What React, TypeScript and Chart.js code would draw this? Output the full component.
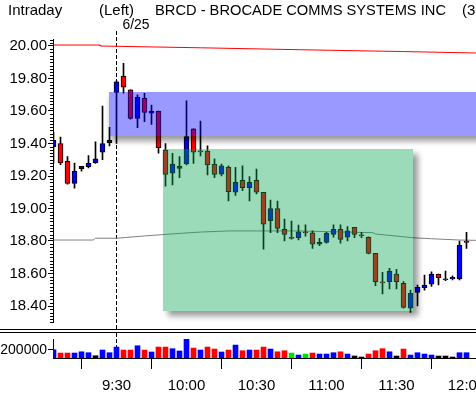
import React, { useEffect, useRef } from 'react';
import { Chart, registerables } from 'chart.js';
Chart.register(...registerables);

const barTimes = [
  '9:03', '9:06', '9:09', '9:12', '9:15', '9:18', '9:21', '9:24', '9:27', '9:30',
  '9:33', '9:36', '9:39', '9:42', '9:45', '9:48', '9:51', '9:54', '9:57', '10:00',
  '10:03', '10:06', '10:09', '10:12', '10:15', '10:18', '10:21', '10:24', '10:27', '10:30',
  '10:33', '10:36', '10:39', '10:42', '10:45', '10:48', '10:51', '10:54', '10:57', '11:00',
  '11:03', '11:06', '11:09', '11:12', '11:15', '11:18', '11:21', '11:24', '11:27', '11:30',
  '11:33', '11:36', '11:39', '11:42', '11:45', '11:48', '11:51', '11:54', '11:57', '12:00',
];
const openPrices = [
  19.38, 19.40, 19.29, 19.155, 19.245, 19.257, 19.282, 19.346, 19.405, 19.715,
  19.815, 19.73, 19.555, 19.678, 19.586, 19.60, 19.36, 19.217, 19.247, 19.274,
  19.49, 19.355, 19.354, 19.274, 19.212, 19.253, 19.10, 19.174, 19.128, 19.174,
  19.10, 18.925, 19.00, 18.872, 18.822, 18.82, 18.857, 18.851, 18.78, 18.792,
  18.841, 18.872, 18.823, 18.884, 18.838, 18.823, 18.724, 18.548, 18.55, 18.597,
  18.54, 18.386, 18.484, 18.513, 18.534, 18.597, 18.567, 18.566, 18.566, 18.798,
];
const highPrices = [
  19.47, 19.44, 19.32, 19.28, 19.26, 19.325, 19.41, 19.63, 19.50, 19.785,
  19.893, 19.73, 19.70, 19.709, 19.637, 19.60, 19.40, 19.34, 19.32, 19.663,
  19.49, 19.538, 19.385, 19.305, 19.274, 19.262, 19.253, 19.262, 19.196, 19.243,
  19.10, 19.052, 19.046, 18.935, 18.923, 18.898, 18.90, 18.863, 18.817, 18.853,
  18.90, 18.90, 18.888, 18.884, 18.853, 18.826, 18.724, 18.607, 18.632, 18.626,
  18.55, 18.498, 18.529, 18.59, 18.611, 18.597, 18.615, 18.586, 18.80, 18.853,
];
const lowPrices = [
  19.28, 19.27, 19.15, 19.125, 19.23, 19.25, 19.278, 19.30, 19.385, 19.40,
  19.71, 19.55, 19.497, 19.534, 19.518, 19.34, 19.138, 19.145, 19.19, 19.268,
  19.278, 19.323, 19.206, 19.19, 19.20, 19.046, 19.08, 19.11, 19.046, 19.09,
  18.75, 18.851, 18.851, 18.80, 18.812, 18.806, 18.83, 18.755, 18.771, 18.786,
  18.823, 18.786, 18.80, 18.82, 18.82, 18.72, 18.525, 18.474, 18.505, 18.505,
  18.386, 18.361, 18.40, 18.498, 18.52, 18.529, 18.556, 18.56, 18.56, 18.755,
];
const closePrices = [
  19.42, 19.28, 19.155, 19.23, 19.26, 19.278, 19.305, 19.40, 19.42, 19.78,
  19.746, 19.555, 19.684, 19.592, 19.60, 19.374, 19.21, 19.274, 19.26, 19.442,
  19.346, 19.348, 19.268, 19.21, 19.262, 19.103, 19.161, 19.128, 19.161, 19.10,
  18.903, 19.00, 18.878, 18.841, 18.816, 18.857, 18.851, 18.78, 18.792, 18.847,
  18.872, 18.81, 18.863, 18.841, 18.832, 18.724, 18.55, 18.542, 18.615, 18.55,
  18.392, 18.478, 18.515, 18.529, 18.597, 18.574, 18.562, 18.577, 18.775, 18.792,
];
const volumes = [
  200000, 120000, 120000, 120000, 150000, 128000, 55000, 193000, 128000, 265000,
  193000, 193000, 297000, 193000, 145000, 265000, 265000, 225000, 170000, 458000,
  240000, 193000, 265000, 217000, 145000, 193000, 313000, 176000, 193000, 193000,
  265000, 217000, 150000, 176000, 120000, 72000, 96000, 120000, 96000, 96000,
  128000, 150000, 96000, 48000, 24000, 96000, 176000, 225000, 150000, 48000,
  217000, 72000, 128000, 96000, 72000, 48000, 48000, 24000, 128000, 128000,
];
const volumeTrend = [
  'up', 'down', 'down', 'up', 'up', 'up', 'small', 'up', 'up', 'up',
  'down', 'down', 'up', 'down', 'up', 'down', 'down', 'up', 'up', 'up',
  'down', 'up', 'down', 'down', 'up', 'down', 'up', 'down', 'up', 'down',
  'down', 'up', 'down', 'down', 'even', 'up', 'even', 'down', 'up', 'up',
  'up', 'down', 'up', 'small', 'small', 'down', 'down', 'down', 'up', 'small',
  'down', 'up', 'up', 'up', 'up', 'small', 'small', 'small', 'up', 'up',
];
const priceTicks = [18.4, 18.6, 18.8, 19.0, 19.2, 19.4, 19.6, 19.8, 20.0];
const volumeTicks = [200000];
const timeTicks = ['9:30', '10:00', '10:30', '11:00', '11:30', '12:00'];
const minorTimeTicks = ['9:15', '9:45', '10:15', '10:45', '11:15', '11:45'];

const redLineTimes = ['9:03', '9:23', '9:23', '10:06', '10:49', '11:32', '12:04'];
const redLineValues = [20.006, 20.006, 20.0, 19.989, 19.977, 19.966, 19.957];
const grayLineTimes = ['9:03', '9:20', '9:21', '9:30', '9:42', '9:55', '10:06', '10:18', '10:47', '11:20', '11:21', '11:33', '11:37', '11:45', '11:57', '12:04'];
const grayLineValues = [18.806, 18.806, 18.817, 18.817, 18.831, 18.845, 18.855, 18.862, 18.862, 18.851, 18.843, 18.826, 18.82, 18.814, 18.806, 18.804];

const blueZone = { start: '9:27', end: '12:10', top: 19.717, bottom: 19.446 };
const greenZone = { start: '9:50', end: '11:37', top: 19.367, bottom: 18.371 };
const sessionStart = '9:30';
const sessionDate = '6/25';
const titleLeft = 'Intraday';
const titleSide = '(Left)';
const titleName = 'BRCD - BROCADE COMMS SYSTEMS INC';
const titleTail = '(3min)';

const toMin = (t: string) => {
  const [h, m] = t.split(':').map(Number);
  return h * 60 + m;
};

const FONT = '"Liberation Sans", Arial, sans-serif';
const PX_PER_MIN = 70 / 30;
const AREA_LEFT = 53;
const AREA_WIDTH = 476 - AREA_LEFT;
const X_MIN = toMin(barTimes[0]) - 0.5 / PX_PER_MIN;
const X_MAX = X_MIN + AREA_WIDTH / PX_PER_MIN;

const trendColor: Record<string, string> = { up: '#0000ff', down: '#ff0000', even: '#00e000', small: '#000000' };

function drawZone(chart: any, zone: any, fill: string, offX: number, offY: number) {
  const ctx = chart.ctx;
  const xs = chart.scales.x;
  const ys = chart.scales.y;
  const area = chart.chartArea;
  const x0 = Math.round(Math.max(xs.getPixelForValue(toMin(zone.start)), area.left));
  const x1 = Math.round(Math.min(xs.getPixelForValue(toMin(zone.end)), chart.width + 20));
  const y0 = Math.round(ys.getPixelForValue(zone.top));
  const y1 = Math.round(ys.getPixelForValue(zone.bottom));
  ctx.save();
  ctx.beginPath();
  ctx.rect(0, 0, chart.width, chart.height);
  ctx.rect(x0, y0, x1 - x0, y1 - y0);
  ctx.clip('evenodd');
  ctx.shadowColor = 'rgba(0,0,0,0.4)';
  ctx.shadowBlur = 6;
  ctx.shadowOffsetX = offX;
  ctx.shadowOffsetY = offY;
  ctx.fillStyle = '#000';
  ctx.fillRect(x0, y0, x1 - x0, y1 - y0);
  ctx.restore();
  ctx.save();
  ctx.fillStyle = fill;
  ctx.fillRect(x0, y0, x1 - x0, y1 - y0);
  ctx.restore();
}

function dashedMarker(chart: any, yTop: number, yBottom: number) {
  const ctx = chart.ctx;
  const x = Math.floor(chart.scales.x.getPixelForValue(toMin(sessionStart))) + 0.5;
  ctx.save();
  ctx.strokeStyle = '#000';
  ctx.lineWidth = 1;
  ctx.setLineDash([4, 2]);
  ctx.beginPath();
  ctx.moveTo(x, yTop);
  ctx.lineTo(x, yBottom);
  ctx.stroke();
  ctx.restore();
}

const pricePlugin = {
  id: 'priceDecor',
  beforeDatasetsDraw(chart: any) {
    dashedMarker(chart, 31, chart.height);
  },
  afterDatasetsDraw(chart: any) {
    drawZone(chart, blueZone, 'rgba(0,0,255,0.4)', 2, 5);
    drawZone(chart, greenZone, 'rgba(5,165,80,0.4)', 5, 5);
  },
  afterDraw(chart: any) {
    const ctx = chart.ctx;
    const ys = chart.scales.y;
    const left = chart.chartArea.left;
    ctx.save();
    ctx.strokeStyle = '#000';
    ctx.lineWidth = 1;
    ctx.beginPath();
    for (let k = Math.ceil(ys.min * 50); k <= Math.floor(ys.max * 50); k++) {
      if (k % 10 === 0) continue;
      const y = Math.round(ys.getPixelForValue(k / 50)) + 0.5;
      ctx.moveTo(left - 3, y);
      ctx.lineTo(left, y);
    }
    ctx.stroke();
    ctx.fillStyle = '#000';
    ctx.font = '15px ' + FONT;
    ctx.textBaseline = 'alphabetic';
    ctx.textAlign = 'left';
    ctx.fillText(titleLeft, 8, 15, 56);
    ctx.fillText(titleSide, 99, 15, 36);
    ctx.fillText(titleName, 155, 15, 291);
    ctx.fillText(titleTail, 462, 15);
    const xm = chart.scales.x.getPixelForValue(toMin(sessionStart));
    ctx.fillText(sessionDate, xm + 6, 29, 27);
    ctx.restore();
  },
};

const volumePlugin = {
  id: 'volDecor',
  beforeDatasetsDraw(chart: any) {
    dashedMarker(chart, 4, chart.chartArea.bottom);
  },
  afterDraw(chart: any) {
    const ctx = chart.ctx;
    const xs = chart.scales.x;
    const bottom = chart.chartArea.bottom;
    ctx.save();
    ctx.strokeStyle = '#000';
    ctx.lineWidth = 1;
    ctx.beginPath();
    ctx.moveTo(0, 0.5);
    ctx.lineTo(chart.width, 0.5);
    ctx.moveTo(0, 3.5);
    ctx.lineTo(chart.width, 3.5);
    for (const t of minorTimeTicks) {
      const x = Math.floor(xs.getPixelForValue(toMin(t))) + 0.5;
      ctx.moveTo(x, bottom);
      ctx.lineTo(x, bottom + 8);
    }
    ctx.stroke();
    ctx.restore();
  },
};

export default function App() {
  const priceRef = useRef<HTMLCanvasElement>(null);
  const volRef = useRef<HTMLCanvasElement>(null);

  useEffect(() => {
    const xs = barTimes.map(toMin);
    const priceChart = new Chart(priceRef.current as HTMLCanvasElement, {
      type: 'bar',
      data: {
        datasets: [
          {
            type: 'bar',
            data: xs.map((x, i) => ({ x, y: [openPrices[i], closePrices[i]] })) as any,
            backgroundColor: closePrices.map((c, i) => (c >= openPrices[i] ? '#0000ff' : '#ff0000')),
            borderColor: '#000',
            borderWidth: 1,
            borderSkipped: false,
            barThickness: 5,
            grouped: false,
          } as any,
          {
            type: 'bar',
            data: xs.map((x, i) => ({ x, y: [lowPrices[i], highPrices[i]] })) as any,
            backgroundColor: '#000',
            borderWidth: 0,
            barThickness: 1,
            grouped: false,
          } as any,
          {
            type: 'line',
            data: grayLineTimes.map((t, i) => ({ x: toMin(t), y: grayLineValues[i] })) as any,
            borderColor: '#808080',
            borderWidth: 1,
            pointRadius: 0,
            tension: 0,
          } as any,
          {
            type: 'line',
            data: redLineTimes.map((t, i) => ({ x: toMin(t), y: redLineValues[i] })) as any,
            borderColor: '#ff0000',
            borderWidth: 1,
            pointRadius: 0,
            tension: 0,
          } as any,
        ],
      },
      options: {
        responsive: false,
        animation: false,
        devicePixelRatio: 1,
        events: [],
        layout: { padding: { top: 39.5, bottom: 6.75, left: 0, right: 0 } },
        plugins: { legend: { display: false }, tooltip: { enabled: false } },
        scales: {
          x: { type: 'linear', display: false, min: X_MIN, max: X_MAX, offset: false },
          y: {
            type: 'linear',
            position: 'left',
            min: 18.3,
            max: 20.04,
            afterFit: (s: any) => {
              s.width = AREA_LEFT;
              s.paddingTop = 0;
              s.paddingBottom = 0;
            },
            afterBuildTicks: (s: any) => {
              s.ticks = priceTicks.map((v) => ({ value: v }));
            },
            ticks: {
              autoSkip: false,
              callback: (v: any) => Number(v).toFixed(2),
              font: { family: FONT, size: 15 },
              color: '#000',
              padding: 1,
            },
            grid: { drawOnChartArea: false, tickLength: 5, color: '#000' },
            border: { display: true, color: '#000', width: 1 },
          } as any,
        },
      } as any,
      plugins: [pricePlugin],
    });

    const volChart = new Chart(volRef.current as HTMLCanvasElement, {
      type: 'bar',
      data: {
        datasets: [
          {
            data: xs.map((x, i) => ({ x, y: volumes[i] })) as any,
            backgroundColor: volumeTrend.map((t) => trendColor[t]),
            borderWidth: 0,
            barThickness: 5,
            grouped: false,
          } as any,
        ],
      },
      options: {
        responsive: false,
        animation: false,
        devicePixelRatio: 1,
        events: [],
        layout: { padding: { top: 10, bottom: 0, left: 0, right: 0 } },
        plugins: { legend: { display: false }, tooltip: { enabled: false } },
        scales: {
          x: {
            type: 'linear',
            min: X_MIN,
            max: X_MAX,
            offset: false,
            afterBuildTicks: (s: any) => {
              s.ticks = timeTicks.map((t) => ({ value: toMin(t) }));
            },
            afterFit: (s: any) => {
              s.height = 36;
              s.paddingLeft = 0;
              s.paddingRight = 0;
            },
            ticks: {
              autoSkip: false,
              maxRotation: 0,
              callback: (_v: any, i: number) => timeTicks[i],
              font: { family: FONT, size: 15 },
              color: '#000',
              padding: 8,
            },
            grid: { drawOnChartArea: false, tickLength: 11, color: '#000' },
            border: { display: true, color: '#000', width: 1 },
          } as any,
          y: {
            type: 'linear',
            position: 'left',
            min: 0,
            max: 460000,
            afterFit: (s: any) => {
              s.width = AREA_LEFT;
              s.paddingTop = 0;
              s.paddingBottom = 0;
            },
            afterBuildTicks: (s: any) => {
              s.ticks = volumeTicks.map((v) => ({ value: v }));
            },
            ticks: {
              autoSkip: false,
              callback: (v: any) => String(v),
              font: { family: FONT, size: 14 },
              color: '#000',
              padding: 1,
            },
            grid: { drawOnChartArea: false, tickLength: 5, color: '#000' },
            border: { display: true, color: '#000', width: 1 },
          } as any,
        },
      } as any,
      plugins: [volumePlugin],
    });

    return () => {
      priceChart.destroy();
      volChart.destroy();
    };
  }, []);

  return (
    <div style={{ position: 'absolute', left: 0, top: 0, width: 476, height: 394, background: '#fff', overflow: 'hidden' }}>
      <canvas ref={priceRef} width={476} height={329} style={{ position: 'absolute', left: 0, top: 0 }} />
      <canvas ref={volRef} width={476} height={65} style={{ position: 'absolute', left: 0, top: 329 }} />
    </div>
  );
}
